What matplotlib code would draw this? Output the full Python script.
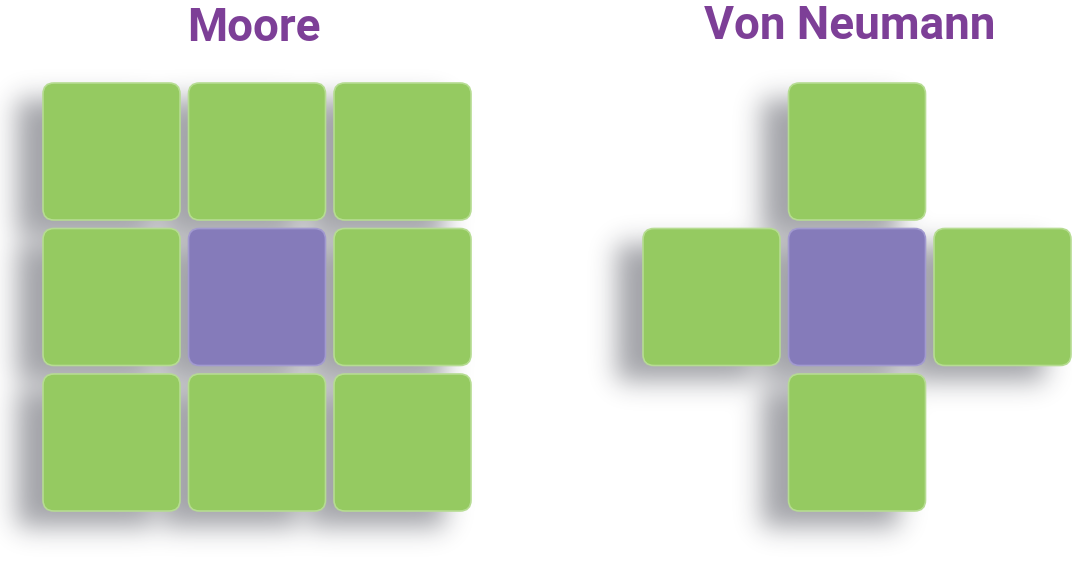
import matplotlib
matplotlib.use("Agg")
import matplotlib.pyplot as plt
import numpy as np
from matplotlib.patches import FancyBboxPatch

# Neighbourhood data: grid row / column of each cell, and its role
moore_rows = [0, 0, 0, 1, 1, 1, 2, 2, 2]
moore_cols = [0, 1, 2, 0, 1, 2, 0, 1, 2]
moore_kind = ["neighbour"] * 4 + ["centre"] + ["neighbour"] * 4

vn_rows = [0, 1, 1, 1, 2]
vn_cols = [1, 0, 1, 2, 1]
vn_kind = ["neighbour", "neighbour", "centre", "neighbour", "neighbour"]

titles = ["Moore", "Von Neumann"]

W, H = 1072, 563
verde = "#95ca61"
roxo = "#857bba"
roxo_titulo = "#7d3f97"
cores = {"neighbour": verde, "centre": roxo}
bordas = {"neighbour": "#b6dc92", "centre": "#a29ad0"}

PASSO = 145.5
LADO = 137
grades = [
    (43, 83, moore_rows, moore_cols, moore_kind),
    (643, 83, vn_rows, vn_cols, vn_kind),
]


def desfocar(img, sigma):
    r = int(3 * sigma)
    k = np.exp(-0.5 * (np.arange(-r, r + 1) / sigma) ** 2)
    k /= k.sum()
    img = np.apply_along_axis(lambda v: np.convolve(v, k, mode="same"), 0, img)
    img = np.apply_along_axis(lambda v: np.convolve(v, k, mode="same"), 1, img)
    return img


# mascara das sombras (deslocadas para a esquerda e para baixo)
sombra = np.zeros((H, W))
for x0, y0, rows, cols, kinds in grades:
    for r, c in zip(rows, cols):
        x = int(x0 + c * PASSO) - 26
        y = int(y0 + r * PASSO) + 16
        sombra[max(y, 0):y + LADO, max(x, 0):x + LADO] = 1.0
sombra = desfocar(sombra, 13)

fig = plt.figure(figsize=(W / 100, H / 100), dpi=100)
ax = fig.add_axes([0, 0, 1, 1])
ax.set_xlim(0, W)
ax.set_ylim(H, 0)
ax.axis("off")

rgba = np.zeros((H, W, 4))
rgba[..., 0] = 0.13
rgba[..., 1] = 0.14
rgba[..., 2] = 0.19
rgba[..., 3] = 0.42 * sombra
ax.imshow(rgba, extent=(0, W, H, 0), interpolation="bilinear", zorder=1)

for x0, y0, rows, cols, kinds in grades:
    for r, c, k in zip(rows, cols, kinds):
        x = x0 + c * PASSO
        y = y0 + r * PASSO
        ax.add_patch(FancyBboxPatch((x, y), LADO, LADO,
                                    boxstyle="round,pad=0,rounding_size=11",
                                    facecolor=cores[k], edgecolor=bordas[k],
                                    linewidth=1.2, zorder=2))

ax.text(254, 28, titles[0], ha="center", va="center", fontsize=33,
        fontweight="bold", color=roxo_titulo, family="Roboto")
ax.text(850, 26, titles[1], ha="center", va="center", fontsize=33,
        fontweight="bold", color=roxo_titulo, family="Roboto")

fig.savefig("out.png", dpi=100)
